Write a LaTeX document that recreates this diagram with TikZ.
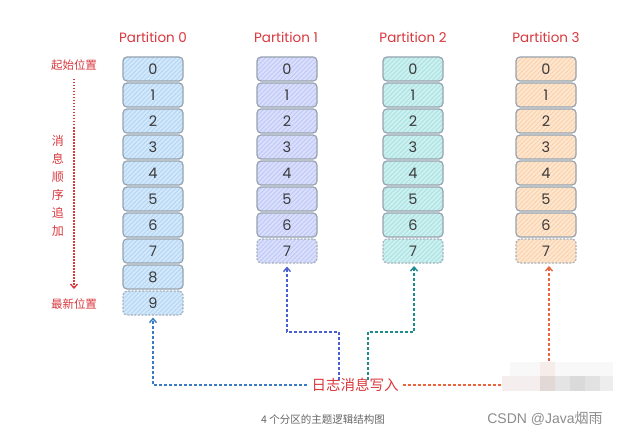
\documentclass[tikz,border=0pt]{standalone}
\usepackage{fontspec}
\setmainfont{Noto Sans CJK SC}
\newfontfamily\latinfont{Liberation Sans}
\newfontfamily\handfont{Poppins}
\usetikzlibrary{arrows.meta,patterns,calc}
\pgfdeclarepatternformonly{hachure}{\pgfqpoint{-1pt}{-1pt}}{\pgfqpoint{6pt}{6pt}}{\pgfqpoint{4.5pt}{4.5pt}}{%
  \pgfsetdash{}{0pt}%
  \pgfsetlinewidth{0.8pt}%
  \pgfpathmoveto{\pgfqpoint{-0.2pt}{-0.2pt}}%
  \pgfpathlineto{\pgfqpoint{4.7pt}{4.7pt}}%
  \pgfusepath{stroke}}
\definecolor{cellborder}{HTML}{97A3AF}
\definecolor{digit}{HTML}{3A3A3A}
\definecolor{titlered}{HTML}{D9383E}
\definecolor{blueF}{HTML}{D3E8FA}
\definecolor{blueH}{HTML}{B2D6F4}
\definecolor{purpleF}{HTML}{DADFFC}
\definecolor{purpleH}{HTML}{C0C8F7}
\definecolor{tealF}{HTML}{CDF0F0}
\definecolor{tealH}{HTML}{ABE2E2}
\definecolor{orangeF}{HTML}{FFE6CF}
\definecolor{orangeH}{HTML}{FAD2AE}
\definecolor{arrBlue}{HTML}{3A7BC8}
\definecolor{arrPurple}{HTML}{4A5FD0}
\definecolor{arrTeal}{HTML}{1C8C8E}
\definecolor{arrOrange}{HTML}{E8653E}
\definecolor{capgray}{HTML}{666666}
\definecolor{wmgray}{HTML}{8C8C8C}
\definecolor{mzA}{HTML}{F8F8F8}
\definecolor{mzB}{HTML}{F6ECE9}
\definecolor{mzC}{HTML}{F4EFEE}
\definecolor{mzD}{HTML}{E2D8D6}
\definecolor{mzE}{HTML}{E4E4E4}
\definecolor{mzF}{HTML}{DADADA}
\definecolor{mzG}{HTML}{E2E2E2}
\definecolor{mzH}{HTML}{EDEDED}
\tikzset{
  cell/.style={draw=cellborder, line width=1.2pt, rounded corners=4pt,
    minimum width=60pt, minimum height=24pt, inner sep=0pt,
    font=\handfont\fontsize{14.5}{14.5}\selectfont, text=digit},
  cellblue/.style={cell, preaction={fill=blueF}, pattern=hachure, pattern color=blueH},
  cellpurple/.style={cell, preaction={fill=purpleF}, pattern=hachure, pattern color=purpleH},
  cellteal/.style={cell, preaction={fill=tealF}, pattern=hachure, pattern color=tealH},
  cellorange/.style={cell, preaction={fill=orangeF}, pattern=hachure, pattern color=orangeH},
  newcell/.style={dash pattern=on 2pt off 1.5pt, draw=cellborder!85},
  ptitle/.style={text=titlered, font=\handfont\fontsize{13.5}{13.5}\selectfont},
  sidelabel/.style={text=titlered, font=\fontsize{11.5}{12}\selectfont, inner sep=1pt},
  feed/.style={line width=1.4pt, dash pattern=on 3pt off 2pt,
    -{Straight Barb[length=4pt,width=7pt]}}
}
\begin{document}
\begin{tikzpicture}[x=1pt,y=-1pt]
\useasboundingbox[fill=white] (0,0) rectangle (622,436);

% titles
\node[ptitle] (t0) at (153,37) {Partition 0};
\node[ptitle] (t1) at (286,37) {Partition 1};
\node[ptitle] (t2) at (413,37) {Partition 2};
\node[ptitle] (t3) at (546,37) {Partition 3};

% partition 0
\foreach \i in {0,...,8} \node[cellblue] (p0b\i) at (153,{69+26*\i}) {\i};
\node[cellblue, newcell] (p0b9) at (153,303) {9};
% partition 1
\foreach \i in {0,...,6} \node[cellpurple] (p1b\i) at (287,{69+26*\i}) {\i};
\node[cellpurple, newcell] (p1b7) at (287,251) {7};
% partition 2
\foreach \i in {0,...,6} \node[cellteal] (p2b\i) at (413,{69+26*\i}) {\i};
\node[cellteal, newcell] (p2b7) at (413,251) {7};
% partition 3
\foreach \i in {0,...,6} \node[cellorange] (p3b\i) at (546,{69+26*\i}) {\i};
\node[cellorange, newcell] (p3b7) at (546,251) {7};

% left labels
\node[sidelabel] (start) at (74,65) {起始位置};
\node[sidelabel] (latest) at (74,304) {最新位置};
\node[sidelabel, align=center, font=\fontsize{12}{18}\selectfont] (order) at (58,186)
  {消\\息\\顺\\序\\追\\加};
\coordinate (ls) at (74,79);
\coordinate (le) at (74,289);
\draw[titlered, line width=1.3pt, dash pattern=on 1.5pt off 1.5pt,
  -{Straight Barb[length=4pt,width=7pt]}] (ls) -- (le);

% writer text
\node[text=titlered, font=\fontsize{14.5}{15}\selectfont, inner sep=4pt] (msg) at (355,385) {日志消息写入};

\coordinate (b1) at (153,385);
\draw[feed, arrBlue] (msg.west) -- (b1) -- ($(p0b9.south)+(0,2)$);

\coordinate (pu0) at (339,380);
\coordinate (pu1) at (339,332);
\coordinate (pu2) at (287,332);
\draw[feed, arrPurple] (pu0) -- (pu1) -- (pu2) -- ($(p1b7.south)+(0,3)$);

\coordinate (te0) at (368,380);
\coordinate (te1) at (368,332);
\coordinate (te2) at (414,332);
\draw[feed, arrTeal] (te0) -- (te1) -- (te2) -- (414,266);

\coordinate (or1) at (549,385);
\draw[feed, arrOrange] (msg.east) -- (or1) -- (549,266);

% mosaic (blurred watermark area)
\fill[mzA] (510,362) rectangle (613,376);
\fill[mzB] (540,362) rectangle (555,376);
\fill[mzC] (502,376) rectangle (540,391);
\fill[mzD] (540,376) rectangle (555,391);
\fill[mzE] (555,376) rectangle (570,391);
\fill[mzF] (570,376) rectangle (585,391);
\fill[mzG] (585,376) rectangle (600,391);
\fill[mzH] (600,376) rectangle (613,391);

% captions
\node[text=capgray, font=\fontsize{10.5}{11}\selectfont] (cap) at (323,420) {4 个分区的主题逻辑结构图};
\node[text=wmgray, font=\fontsize{14}{14}\selectfont] (wm) at (545,419) {{\latinfont CSDN @Java}烟雨};
\end{tikzpicture}
\end{document}
